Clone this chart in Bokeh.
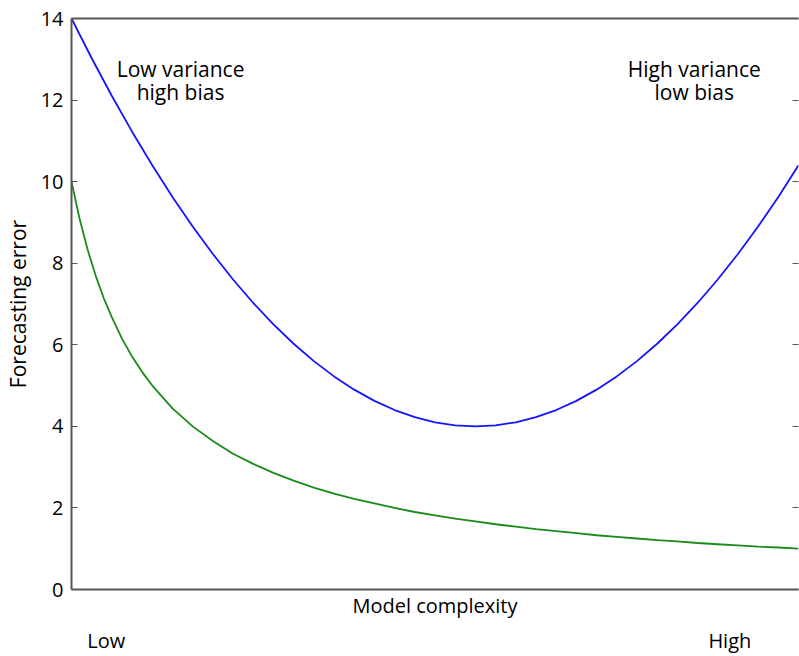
from bokeh.plotting import figure
from bokeh.models import Range1d, LinearAxis, FixedTicker, Label
from bokeh.embed import file_html
from bokeh.resources import INLINE

# Model complexity (arbitrary units, Low -> High)
x_test = [1, 1.25, 1.5, 1.75, 2, 2.25, 2.5, 2.75, 3, 3.25, 3.5, 3.75, 4, 4.25,
          4.5, 4.75, 5, 5.25, 5.5, 5.75, 6, 6.25, 6.5, 6.75, 7, 7.25, 7.5,
          7.75, 8, 8.25, 8.5, 8.75, 9, 9.25, 9.5, 9.75, 10]
# Blue curve: forecasting error on new data
err_test = [14.0, 13.025, 12.1, 11.225, 10.4, 9.625, 8.9, 8.225, 7.6, 7.025,
            6.5, 6.025, 5.6, 5.225, 4.9, 4.625, 4.4, 4.225, 4.1, 4.025, 4.0,
            4.025, 4.1, 4.225, 4.4, 4.625, 4.9, 5.225, 5.6, 6.025, 6.5, 7.025,
            7.6, 8.225, 8.9, 9.625, 10.4]

x_train = [1, 1.1, 1.2, 1.3, 1.4, 1.5, 1.625, 1.75, 1.875, 2, 2.25, 2.5, 2.75,
           3, 3.25, 3.5, 3.75, 4, 4.25, 4.5, 4.75, 5, 5.25, 5.5, 5.75, 6,
           6.25, 6.5, 6.75, 7, 7.25, 7.5, 7.75, 8, 8.25, 8.5, 8.75, 9, 9.25,
           9.5, 9.75, 10]
# Green curve: error on the fitted data
err_train = [10.0, 9.09, 8.33, 7.69, 7.14, 6.67, 6.15, 5.71, 5.33, 5.0, 4.44,
             4.0, 3.64, 3.33, 3.08, 2.86, 2.67, 2.5, 2.35, 2.22, 2.11, 2.0,
             1.9, 1.82, 1.74, 1.67, 1.6, 1.54, 1.48, 1.43, 1.38, 1.33, 1.29,
             1.25, 1.21, 1.18, 1.14, 1.11, 1.08, 1.05, 1.03, 1.0]

y_ticks = [0, 2, 4, 6, 8, 10, 12, 14]
end_ticks = [1.43, 9.15]
end_labels = ["Low", "High"]

FONT = "Open Sans"
SPINE = "#555555"
FS = "20px"
FS_L = "21px"

p = figure(width=799, height=656, output_backend="svg", toolbar_location=None,
           x_range=Range1d(1, 10), y_range=Range1d(0, 14),
           x_axis_type=None, y_axis_type=None,
           min_border_left=71, min_border_right=1, min_border_top=18,
           min_border_bottom=66)
p.outline_line_color = None
p.xgrid.visible = False
p.ygrid.visible = False
p.background_fill_color = "white"

# left axis
ly = LinearAxis(ticker=FixedTicker(ticks=y_ticks), axis_label="Forecasting error")
ly.axis_line_color = SPINE
ly.axis_line_width = 2
ly.major_tick_in = 6
ly.major_tick_out = 0
ly.major_tick_line_color = SPINE
ly.minor_tick_line_color = None
ly.major_label_text_font = FONT
ly.major_label_text_font_size = FS
ly.major_label_text_color = "black"
ly.major_label_standoff = 8
ly.axis_label_text_font = FONT
ly.axis_label_text_font_size = FS_L
ly.axis_label_text_font_style = "normal"
ly.axis_label_text_color = "black"
ly.axis_label_standoff = 6
p.add_layout(ly, "left")

# right tick stubs
ry = LinearAxis(ticker=FixedTicker(ticks=y_ticks))
ry.axis_line_color = None
ry.major_tick_in = 6
ry.major_tick_out = 0
ry.major_tick_line_color = SPINE
ry.minor_tick_line_color = None
ry.major_label_overrides = {t: "" for t in y_ticks}
ry.major_label_standoff = 0
p.add_layout(ry, "right")

# top spine
tx = LinearAxis(ticker=FixedTicker(ticks=[]))
tx.axis_line_color = SPINE
tx.axis_line_width = 2
tx.major_tick_line_color = None
tx.minor_tick_line_color = None
tx.major_label_standoff = 0
p.add_layout(tx, "above")

# bottom spine + label
bx = LinearAxis(ticker=FixedTicker(ticks=[]), axis_label="Model complexity")
bx.axis_line_color = SPINE
bx.axis_line_width = 2
bx.major_tick_line_color = None
bx.minor_tick_line_color = None
bx.major_label_standoff = 0
bx.axis_label_text_font = FONT
bx.axis_label_text_font_size = FS
bx.axis_label_text_font_style = "normal"
bx.axis_label_text_color = "black"
bx.axis_label_standoff = 2
p.add_layout(bx, "below")

# Low / High labels under the axis label
ex = LinearAxis(ticker=FixedTicker(ticks=end_ticks))
ex.major_label_overrides = {t: s for t, s in zip(end_ticks, end_labels)}
ex.axis_line_color = None
ex.major_tick_line_color = None
ex.minor_tick_line_color = None
ex.major_tick_in = 0
ex.major_tick_out = 0
ex.major_label_standoff = 5
ex.major_label_text_font = FONT
ex.major_label_text_font_size = FS
ex.major_label_text_color = "black"
p.add_layout(ex, "below")

p.line(x_test, err_test, line_color="#1414ff", line_width=1.8)
p.line(x_train, err_train, line_color="#1a8a1a", line_width=1.8)

for txt, xx in [("Low variance\nhigh bias", 2.35), ("High variance\nlow bias", 8.71)]:
    p.add_layout(Label(x=xx, y=13.1, text=txt, text_align="center",
                       text_baseline="top", text_font=FONT,
                       text_font_size=FS_L, text_color="black",
                       text_line_height=0.82))

open("out.html", "w").write(file_html(p, INLINE))
